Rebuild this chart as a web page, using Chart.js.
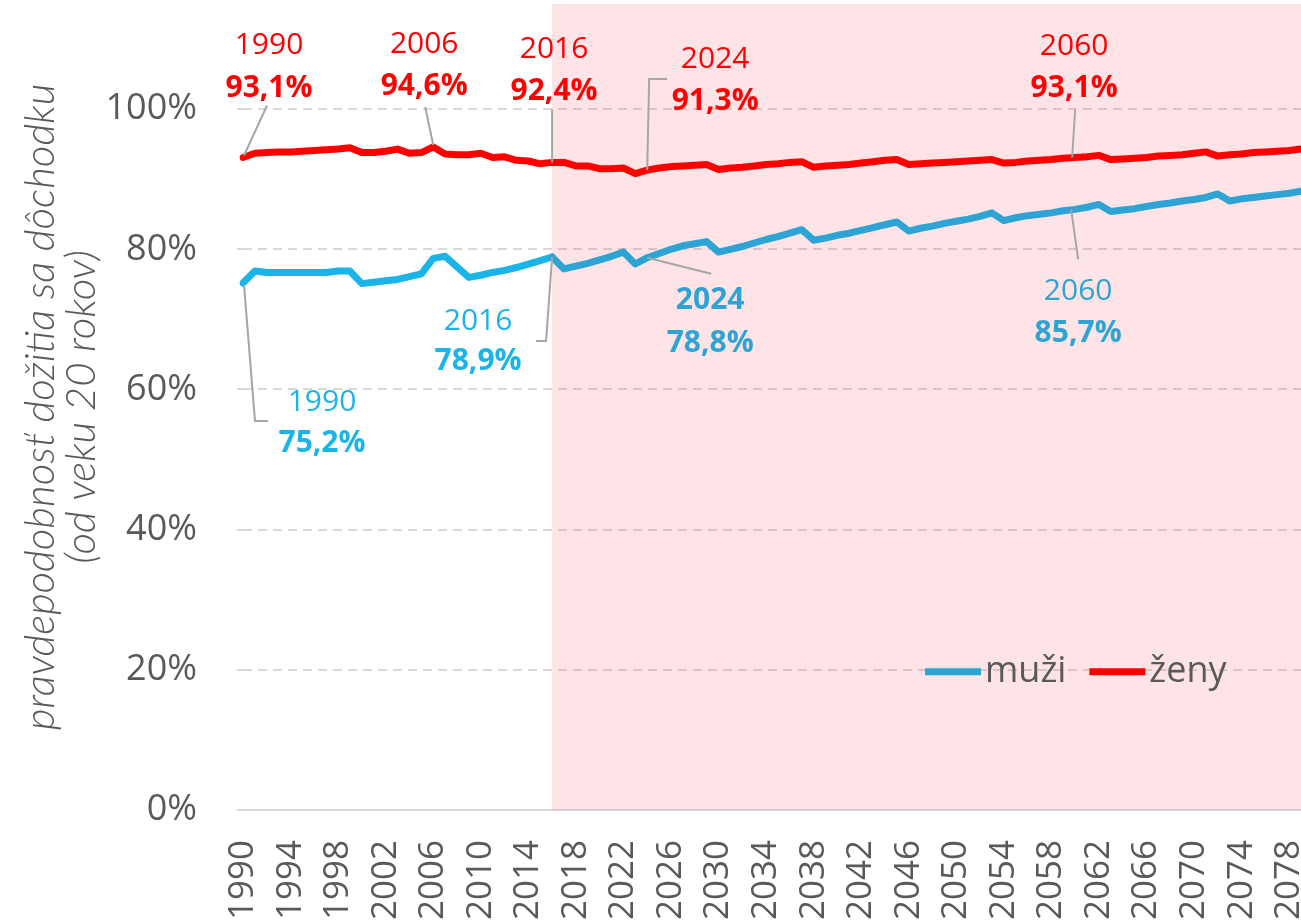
<!DOCTYPE html>
<html><head><meta charset="utf-8">
<script src="https://cdn.jsdelivr.net/npm/chart.js@4"></script>
<style>html,body{margin:0;padding:0;background:#fff;overflow:hidden}#wrap{width:1301px;height:923px;position:relative}canvas{display:block}</style>
</head><body>
<div id="wrap"><canvas id="c"></canvas></div>
<script>
const years = [1990,1991,1992,1993,1994,1995,1996,1997,1998,1999,
2000,2001,2002,2003,2004,2005,2006,2007,2008,2009,
2010,2011,2012,2013,2014,2015,2016,2017,2018,2019,
2020,2021,2022,2023,2024,2025,2026,2027,2028,2029,
2030,2031,2032,2033,2034,2035,2036,2037,2038,2039,
2040,2041,2042,2043,2044,2045,2046,2047,2048,2049,
2050,2051,2052,2053,2054,2055,2056,2057,2058,2059,
2060,2061,2062,2063,2064,2065,2066,2067,2068,2069,
2070,2071,2072,2073,2074,2075,2076,2077,2078,2079];

const muzi = [0.752,0.769,0.767,0.767,0.767,0.767,0.767,0.767,0.769,0.769,
0.751,0.753,0.755,0.757,0.761,0.765,0.787,0.790,0.775,0.760,
0.763,0.767,0.770,0.774,0.779,0.784,0.789,0.772,0.776,0.780,
0.785,0.790,0.796,0.779,0.788,0.794,0.800,0.805,0.808,0.811,
0.796,0.800,0.804,0.809,0.814,0.818,0.823,0.828,0.813,0.816,
0.820,0.823,0.827,0.831,0.835,0.839,0.826,0.830,0.833,0.837,
0.840,0.843,0.847,0.852,0.841,0.845,0.848,0.850,0.852,0.855,
0.857,0.860,0.864,0.854,0.856,0.858,0.861,0.864,0.866,0.869,
0.871,0.874,0.879,0.869,0.872,0.874,0.876,0.878,0.880,0.883];

const zeny = [0.931,0.937,0.938,0.939,0.939,0.940,0.941,0.942,0.943,0.945,
0.938,0.938,0.940,0.943,0.937,0.938,0.946,0.936,0.935,0.935,
0.937,0.931,0.932,0.927,0.926,0.922,0.924,0.924,0.919,0.919,
0.915,0.915,0.916,0.908,0.913,0.916,0.918,0.919,0.920,0.921,
0.914,0.916,0.917,0.919,0.921,0.922,0.924,0.925,0.917,0.919,
0.920,0.921,0.923,0.925,0.927,0.928,0.921,0.922,0.923,0.924,
0.925,0.926,0.927,0.928,0.923,0.924,0.926,0.927,0.928,0.930,
0.931,0.932,0.934,0.928,0.929,0.930,0.931,0.933,0.934,0.935,
0.937,0.939,0.933,0.935,0.936,0.938,0.939,0.940,0.941,0.943];

const seriesNames = ['muži', 'ženy'];
const yTitle = ['pravdepodobnosť dožitia sa dôchodku', '(od veku 20 rokov)'];
const projectionStart = 2016;
const xLabelEvery = 4;
const yTickStep = 0.2;

// annotated points: series index, year; label/leader offsets are styling only
const annotations = [
  {s:1, year:1990, boldYear:false, dx:26, dyY:-112, dyV:-69, lead:[[1,-2],[24,-52]]},
  {s:1, year:2006, boldYear:false, dx:-9, dyY:-103, dyV:-61, lead:[[0,-2],[-8,-40]]},
  {s:1, year:2016, boldYear:false, dx:2, dyY:-113, dyV:-71, lead:[[0,0],[0,-53]]},
  {s:1, year:2024, boldYear:false, dx:68, dyY:-111, dyV:-69, lead:[[0,0],[2,-91],[20,-91]]},
  {s:1, year:2060, boldYear:false, dx:-1, dyY:-111, dyV:-69, lead:[[-3,0],[0,-48]]},
  {s:0, year:1990, boldYear:false, dx:79, dyY:120, dyV:161, lead:[[1,2],[12,138],[25,138]]},
  {s:0, year:2016, boldYear:false, dx:-74, dyY:64, dyV:104, lead:[[0,0],[-6,84],[-16,84]]},
  {s:0, year:2024, boldYear:true, dx:63, dyY:43, dyV:86, lead:[[0,0],[64,16]]},
  {s:0, year:2060, boldYear:false, dx:3, dyY:82, dyV:124, lead:[[-4,0],[3,50]]}
];

const RED = '#FF0000';
const BLUE_HIST = '#1AB4E8';
const BLUE_PROJ = '#2EA4D5';
const GREY_TXT = '#595959';
const GRID = '#D9D9D9';
const LEADER = '#A6A6A6';
const SHADE = 'rgba(250,30,50,0.12)';
const projIdx = years.indexOf(projectionStart);

const fmtPct = v => (v * 100).toFixed(1).replace('.', ',') + '%';

const shadePlugin = {
  id: 'shade',
  beforeDatasetsDraw(chart) {
    const {ctx, chartArea: a, scales: {x}} = chart;
    const x0 = x.getPixelForValue(projIdx);
    ctx.save();
    ctx.fillStyle = SHADE;
    ctx.fillRect(x0, a.top, a.right - x0, a.bottom - a.top);
    ctx.restore();
  }
};

const labelPlugin = {
  id: 'labels',
  afterDatasetsDraw(chart) {
    const {ctx, scales: {x, y}} = chart;
    ctx.save();
    annotations.forEach(an => {
      const i = years.indexOf(an.year);
      const v = chart.data.datasets[an.s].data[i];
      const px = x.getPixelForValue(i), py = y.getPixelForValue(v);
      ctx.strokeStyle = LEADER; ctx.lineWidth = 2;
      ctx.beginPath();
      an.lead.forEach((p, k) => { if (k === 0) ctx.moveTo(px + p[0], py + p[1]); else ctx.lineTo(px + p[0], py + p[1]); });
      ctx.stroke();
      let col = RED;
      if (an.s === 0) col = an.year > projectionStart ? BLUE_PROJ : BLUE_HIST;
      ctx.fillStyle = col;
      ctx.textAlign = 'center'; ctx.textBaseline = 'middle';
      ctx.font = (an.boldYear ? 'bold ' : '') + '30px "Open Sans"';
      ctx.fillText(String(an.year), px + an.dx, py + an.dyY);
      ctx.font = 'bold 30px "Open Sans"';
      ctx.fillText(fmtPct(v), px + an.dx, py + an.dyV);
    });
    ctx.restore();
  }
};

const legendPlugin = {
  id: 'inlineLegend',
  afterDatasetsDraw(chart) {
    const {ctx, chartArea: a, scales: {y}} = chart;
    let lx = a.left + 682;
    const ly = y.getPixelForValue(0.2) + 2;
    ctx.save();
    ctx.font = '36px "Open Sans"';
    ctx.textBaseline = 'middle'; ctx.textAlign = 'left';
    chart.data.datasets.forEach((ds, i) => {
      ctx.strokeStyle = i === 0 ? BLUE_PROJ : RED;
      ctx.lineWidth = 7; ctx.lineCap = 'butt';
      ctx.beginPath(); ctx.moveTo(lx, ly); ctx.lineTo(lx + 56, ly); ctx.stroke();
      ctx.fillStyle = GREY_TXT;
      ctx.fillText(ds.label, lx + 60, ly);
      lx += 60 + ctx.measureText(ds.label).width + 23;
    });
    ctx.restore();
  }
};

new Chart(document.getElementById('c'), {
  type: 'line',
  data: {
    labels: years.map(String),
    datasets: [
      {label: seriesNames[0], data: muzi, borderColor: BLUE_HIST, borderWidth: 7, pointRadius: 0,
       borderJoinStyle: 'round', borderCapStyle: 'round', tension: 0,
       segment: {borderColor: c => c.p0DataIndex >= projIdx ? BLUE_PROJ : BLUE_HIST}},
      {label: seriesNames[1], data: zeny, borderColor: RED, borderWidth: 7, pointRadius: 0,
       borderJoinStyle: 'round', borderCapStyle: 'round', tension: 0}
    ]
  },
  options: {
    responsive: true, maintainAspectRatio: false, animation: false,
    layout: {padding: {top: 4, right: 0, left: 0, bottom: 0}},
    plugins: {legend: {display: false}, tooltip: {enabled: false}},
    scales: {
      x: {
        grid: {display: false, drawTicks: false},
        border: {display: true, color: GRID, width: 2},
        ticks: {autoSkip: false, maxRotation: 90, minRotation: 90, padding: 30, color: GREY_TXT,
                font: {family: 'Open Sans', size: 35},
                callback: (v, i) => ((years[i] - years[0]) % xLabelEvery === 0 ? String(years[i]) : '')},
        afterFit: s => { s.height = 113; s.paddingLeft = 0; s.paddingRight = 0; }
      },
      y: {
        min: 0, max: 1.15,
        ticks: {stepSize: yTickStep, includeBounds: false, color: GREY_TXT, padding: 40,
                font: {family: 'Open Sans', size: 36},
                callback: v => Math.round(v * 100) + '%'},
        grid: {color: GRID, lineWidth: 2, tickLength: 6, drawTicks: true, tickBorderDash: []},
        border: {display: false, dash: [9, 6]},
        title: {display: true, text: yTitle, color: GREY_TXT,
                font: {family: 'Lato', style: 'italic', weight: '300', size: 42, lineHeight: 0.98},
                padding: {top: 20, bottom: 0}},
        afterFit: s => { s.width = 243; s.paddingTop = 0; s.paddingBottom = 0; }
      }
    }
  },
  plugins: [shadePlugin, labelPlugin, legendPlugin]
});
</script>
</body></html>
